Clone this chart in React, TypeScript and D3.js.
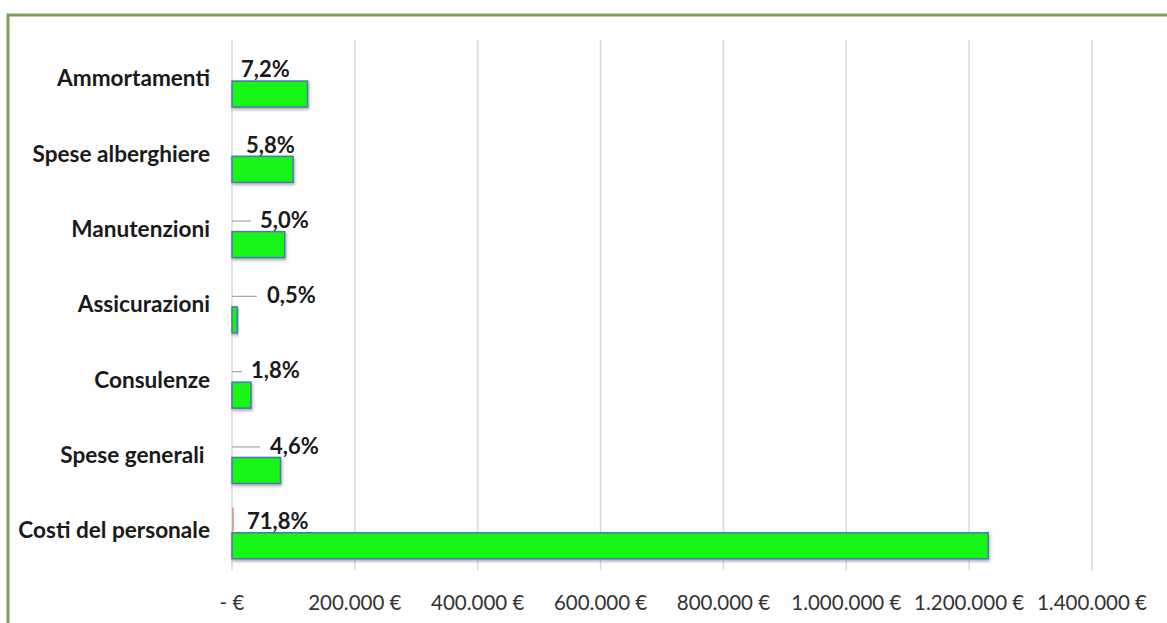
import React, {useEffect, useRef} from "react";
import * as d3 from 'd3';

// categories top to bottom, as in the chart
const categories = [
    "Ammortamenti",
    "Spese alberghiere",
    "Manutenzioni",
    "Assicurazioni",
    "Consulenze",
    "Spese generali ",
    "Costi del personale"
];
const values = [123000, 99500, 85800, 8600, 30900, 78900, 1231000];
const percentLabels = ["7,2%", "5,8%", "5,0%", "0,5%", "1,8%", "4,6%", "71,8%"];
const xTicks = [0, 200000, 400000, 600000, 800000, 1000000, 1200000, 1400000];

// where Excel dropped each data label (px right of the axis) and whether it has a leader line
const labelShift = [9, 14, 28, 35, 19, 38, 15];
const leaderLen = [0, 0, 19, 25, 10, 28, 0];

const fmtEuro = (v: number) => v === 0 ? "- €" : d3.format(",")(v).replace(/,/g, ".") + " €";

const App: React.FC = () => {
    const svgRef = useRef<SVGSVGElement | null>(null);

    useEffect(() => {
        if (!svgRef.current) return;
        const svg = d3.select(svgRef.current);
        svg.selectAll("*").remove();

        const W = 1167, H = 623;
        const left = 232, right = 1092, top = 40, bottom = 567;

        const defs = svg.append("defs");
        const f = defs.append("filter").attr("id", "shadow")
            .attr("x", "-10%").attr("y", "-30%").attr("width", "130%").attr("height", "180%");
        f.append("feDropShadow").attr("dx", 1).attr("dy", 2).attr("stdDeviation", 1.5)
            .attr("flood-color", "#444").attr("flood-opacity", 0.45);

        svg.append("rect").attr("width", W).attr("height", H).attr("fill", "#fff");

        // green frame (runs off the right and bottom of the picture)
        svg.append("rect")
            .attr("x", 8).attr("y", 15).attr("width", 1300).attr("height", 800)
            .attr("fill", "none").attr("stroke", "#78a05c").attr("stroke-width", 3);

        const x = d3.scaleLinear().domain([0, 1400000]).range([left, right]);
        const y = d3.scaleBand<string>().domain(categories).range([top, bottom]);
        const bw = y.bandwidth();

        // vertical gridlines
        svg.append("g").selectAll("line").data(xTicks).enter().append("line")
            .attr("x1", d => x(d)).attr("x2", d => x(d))
            .attr("y1", top).attr("y2", bottom + 3)
            .attr("stroke", "#d9d9d9").attr("stroke-width", 1.5);

        // tick labels
        svg.append("g").selectAll("text").data(xTicks).enter().append("text")
            .attr("x", d => x(d)).attr("y", 610)
            .attr("text-anchor", "middle")
            .style("font-family", "Lato, 'Open Sans', sans-serif")
            .style("font-size", "20.5px")
            .attr("fill", "#333")
            .text(d => fmtEuro(d));

        // category labels
        svg.append("g").selectAll("text").data(categories).enter().append("text")
            .attr("x", 210).attr("y", d => y(d)! + bw / 2 + 3)
            .attr("text-anchor", "end").attr("dominant-baseline", "middle")
            .style("font-family", "Lato, 'Open Sans', sans-serif")
            .style("font-size", "22.6px").style("font-weight", "bold")
            .attr("fill", "#1a1a1a")
            .style("white-space", "pre")
            .text(d => d);

        // bars
        svg.append("g").selectAll("rect").data(categories).enter().append("rect")
            .attr("x", x(0))
            .attr("y", d => y(d)! + bw * 0.545)
            .attr("width", (d, i) => x(values[i]) - x(0))
            .attr("height", bw * 0.345)
            .attr("fill", "#14f514")
            .attr("stroke", "#4a7ab0").attr("stroke-width", 1.5)
            .attr("filter", "url(#shadow)");

        // leader lines
        svg.append("g").selectAll("line").data(categories).enter()
            .filter((d, i) => leaderLen[i] > 0)
            .append("line")
            .attr("x1", x(0)).attr("x2", (d) => x(0) + leaderLen[categories.indexOf(d)])
            .attr("y1", d => y(d)! + bw * 0.405).attr("y2", d => y(d)! + bw * 0.405)
            .attr("stroke", "#a6a6a6").attr("stroke-width", 1.2);

        // small red leader on the last category
        const last = categories[categories.length - 1];
        svg.append("line")
            .attr("x1", x(0) + 1).attr("x2", x(0) + 1)
            .attr("y1", y(last)! + bw * 0.21).attr("y2", y(last)! + bw * 0.53)
            .attr("stroke", "#d9706a").attr("stroke-width", 1.2);

        // percentage labels
        svg.append("g").selectAll("text").data(categories).enter().append("text")
            .attr("x", (d, i) => x(0) + labelShift[i])
            .attr("y", d => y(d)! + bw * 0.42)
            .attr("dominant-baseline", "middle")
            .style("font-family", "Lato, 'Open Sans', sans-serif")
            .style("font-size", "22px").style("font-weight", "bold")
            .attr("fill", "#1a1a1a")
            .text((d, i) => percentLabels[i]);
    }, []);

    return (
        <svg ref={svgRef} width={1167} height={623}
             style={{position: "absolute", left: 0, top: 0}}></svg>
    );
}

export default App;
